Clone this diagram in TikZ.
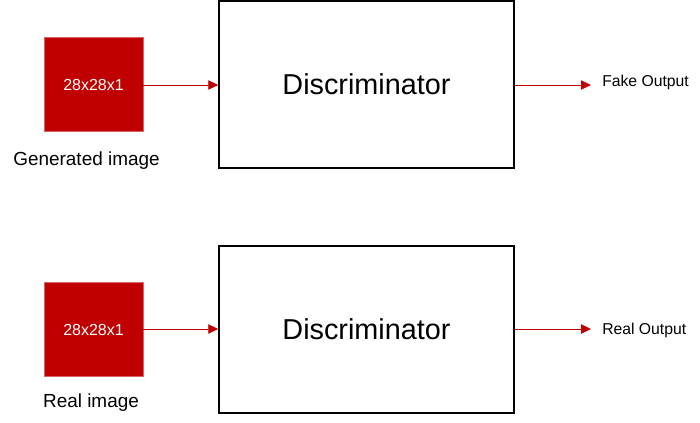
\documentclass[tikz,border=0pt]{standalone}
\usepackage{fontspec}
\setmainfont{Liberation Sans}
\usetikzlibrary{arrows.meta}
\definecolor{dred}{RGB}{192,0,0}
\begin{document}
\begin{tikzpicture}[x=0.75pt,y=-0.75pt,
  imgbox/.style={fill=dred,draw=dred!60!white,line width=0.5pt,minimum width=74.25pt,minimum height=70pt,inner sep=0pt,text=white,font=\fontsize{12}{14}\selectfont},
  discbox/.style={draw=black,line width=1.1pt,minimum width=221.25pt,minimum height=125pt,inner sep=0pt,font=\fontsize{21.6}{24}\selectfont},
  lbl/.style={font=\fontsize{14.2}{16}\selectfont,inner sep=0pt},
  outlbl/.style={font=\fontsize{11.8}{14}\selectfont,anchor=west,inner sep=0pt},
  conn/.style={draw=dred,line width=0.6pt,-{Triangle[length=7.5pt,width=7pt]}}]
\useasboundingbox (0,0) rectangle (700,423);
% top row
\node[imgbox] (g) at (93.5,84.5) {28x28x1};
\node[lbl] (gl) at (86.5,161) {Generated image};
\node[discbox] (d1) at (366.5,84.5) {Discriminator};
\coordinate (o1) at (591,85);
\node[outlbl] (f) at (602,82) {Fake Output};
\draw[conn] (g.east |- 0,85) -- (d1.west |- 0,85);
\draw[conn] (d1.east |- 0,85) -- (o1);
% bottom row
\node[imgbox] (r) at (93.5,329.5) {28x28x1};
\node[lbl] (rl) at (91,403) {Real image};
\node[discbox] (d2) at (366.5,329.5) {Discriminator};
\coordinate (o2) at (591,329);
\node[outlbl] (ro) at (602,330) {Real Output};
\draw[conn] (r.east |- 0,329) -- (d2.west |- 0,329);
\draw[conn] (d2.east |- 0,329) -- (o2);
\end{tikzpicture}
\end{document}
